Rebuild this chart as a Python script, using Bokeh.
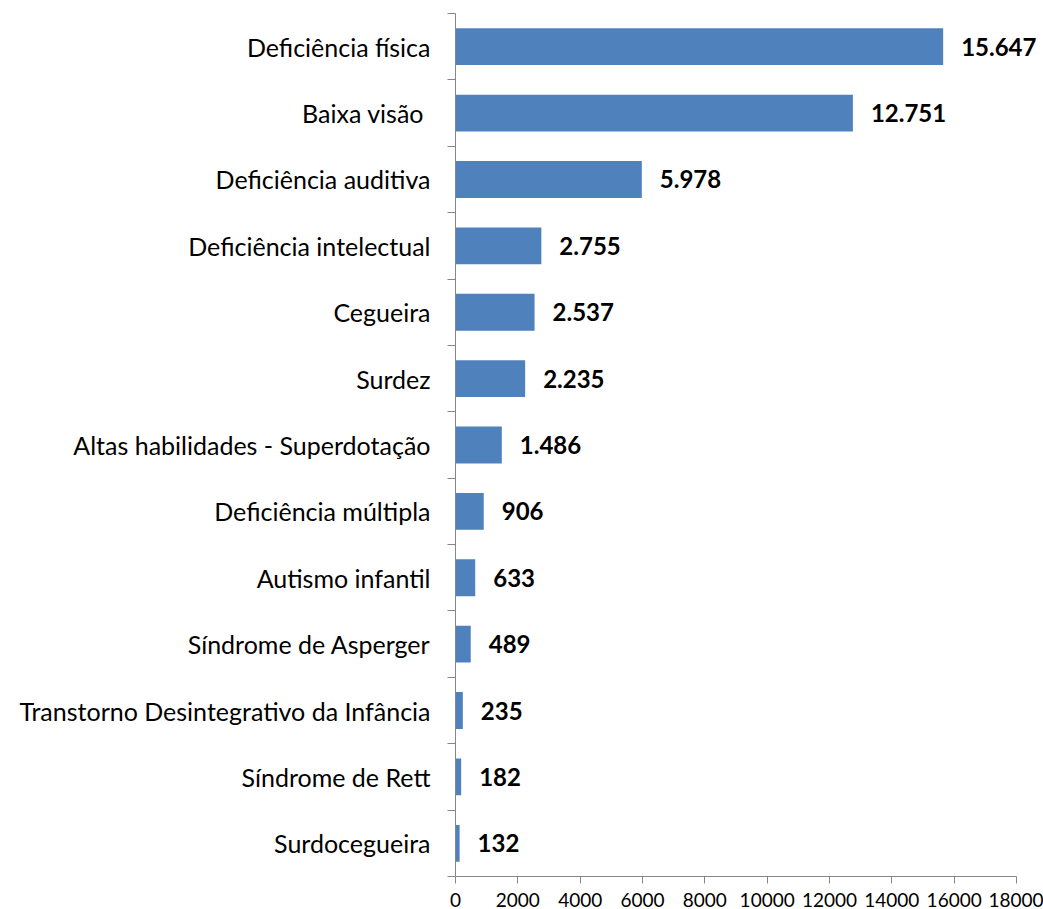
from bokeh.plotting import figure
from bokeh.models import ColumnDataSource, FixedTicker, Range1d, LabelSet
from bokeh.core.properties import value
from bokeh.embed import file_html
from bokeh.resources import INLINE

categories = [
    "Deficiência física",
    "Baixa visão ",
    "Deficiência auditiva",
    "Deficiência intelectual",
    "Cegueira",
    "Surdez",
    "Altas habilidades - Superdotação",
    "Deficiência múltipla",
    "Autismo infantil",
    "Síndrome de Asperger",
    "Transtorno Desintegrativo da Infância",
    "Síndrome de Rett",
    "Surdocegueira",
]
values = [15647, 12751, 5978, 2755, 2537, 2235, 1486, 906, 633, 489, 235, 182, 132]
x_ticks = [0, 2000, 4000, 6000, 8000, 10000, 12000, 14000, 16000, 18000]

n = len(categories)
ypos = [n - 1 - i for i in range(n)]
labels = [f"{v:,}".replace(",", ".") for v in values]

src = ColumnDataSource(dict(y=ypos, v=values, lab=labels))

FONT = "Lato"

# frame spans 455..1043 px; the axis (0..18000) spans 455..1016 px
x_end = 18000 * (1043 - 455) / (1016 - 455)

p = figure(width=1043, height=909, output_backend="svg", toolbar_location=None,
           x_range=Range1d(0, x_end), y_range=Range1d(-0.5, n - 0.5),
           min_border_left=455, min_border_right=0, min_border_top=13, min_border_bottom=33)
p.outline_line_color = None
p.grid.visible = False
p.background_fill_color = "white"
p.border_fill_color = "white"

p.hbar(y="y", right="v", left=0, height=0.555, source=src,
       fill_color="#4F81BD", line_color=None)

p.add_layout(LabelSet(x="v", y="y", text="lab", source=src, x_offset=18,
                      text_baseline="middle", text_align="left",
                      text_font=value(FONT), text_font_style="bold",
                      text_font_size="24px", text_color="black"))

# x axis
p.xaxis.bounds = (0, 18000)
p.xaxis.ticker = FixedTicker(ticks=x_ticks)
p.xaxis.axis_line_color = "#868686"
p.xaxis.major_tick_line_color = "#868686"
p.xaxis.major_tick_out = 7
p.xaxis.major_tick_in = 0
p.xaxis.minor_tick_line_color = None
p.xaxis.major_label_text_font = FONT
p.xaxis.major_label_text_font_size = "19px"
p.xaxis.major_label_text_color = "black"
p.xaxis.major_label_standoff = 9

# y axis
p.yaxis.ticker = FixedTicker(ticks=ypos, minor_ticks=[i - 0.5 for i in range(n + 1)])
p.yaxis.major_label_overrides = {y: c for y, c in zip(ypos, categories)}
p.yaxis.axis_line_color = "#868686"
p.yaxis.major_tick_line_color = None
p.yaxis.major_tick_out = 0
p.yaxis.major_tick_in = 0
p.yaxis.minor_tick_line_color = "#868686"
p.yaxis.minor_tick_out = 8
p.yaxis.minor_tick_in = 0
p.yaxis.major_label_text_font = FONT
p.yaxis.major_label_text_font_size = "25px"
p.yaxis.major_label_text_color = "black"
p.yaxis.major_label_standoff = 17

open("out.html", "w").write(file_html(p, INLINE))
